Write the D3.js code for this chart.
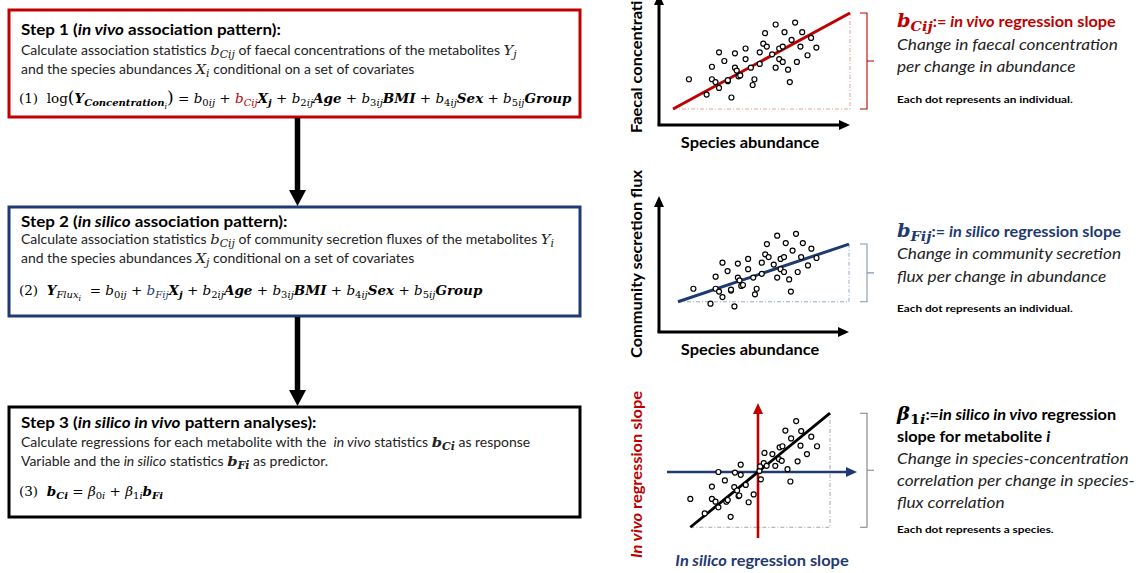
<!DOCTYPE html>
<html><head><meta charset="utf-8">
<script src="https://cdn.jsdelivr.net/npm/d3@7"></script>
<style>body{margin:0;background:#fff}svg{display:block}text{white-space:pre}</style>
</head><body>
<script>
// ---------- DATA ----------
// Panels 1 & 2: each dot is an individual (species abundance vs. response)
const individualAbundance = [9,19,22,22,24,26,26,29,31,31,33,35,35,36,37,38,41,41,44,45,46,49,49,51,52,53,56,58,58,60,60,62,62,63,65,66,67,69,70,72,73,76,78,81];
const individualResponse  = [31,15,44,31,28,59,22,50,29,30,12,43,58,40,34,35,52,63,43,25,31,59,47,68,79,65,57,43,88,52,63,49,65,80,41,28,72,90,49,65,80,56,74,64];
// Panel 3: each dot is a species (in silico slope vs in vivo slope)
const speciesInSilicoSlope = [-0.94,-0.74,-0.64,-0.64,-0.59,-0.55,-0.55,-0.46,-0.44,-0.42,-0.38,-0.33,-0.32,-0.29,-0.27,-0.26,-0.24,-0.24,-0.17,-0.13,-0.06,0.02,0.03,0.04,0.08,0.09,0.12,0.20,0.24,0.29,0.30,0.33,0.34,0.38,0.41,0.45,0.46,0.53,0.55,0.59,0.60,0.68,0.74,0.82];
const speciesInVivoSlope   = [-0.48,-0.74,-0.26,-0.48,-0.53,-0.63,0,-0.15,-0.53,-0.50,-0.80,-0.27,-0.01,-0.33,-0.43,-0.42,0.13,-0.05,-0.23,-0.54,-0.40,0.02,0.10,-0.13,0.16,0.34,0.11,0.32,0.11,0.23,0.44,0.20,0.46,0.74,0.05,-0.17,0.60,0.91,0.19,0.47,0.73,0.32,0.63,0.46];
// regression lines: [intercept, slope], and x extents
const vivoLine = [0, 1.0];
const silicoLine = [17, 0.62];
const patternLine = [0, 1.05];
const individualLineX = [0, 100];
const patternLineX = [-0.94, 1.0];
// labels
const axisLabels = ["Faecal concentration", "Species abundance", "Community secretion flux", "In vivo regression slope", "In silico regression slope"];
const dotNotes = ["Each dot represents an individual.", "Each dot represents an individual.", "Each dot represents a species."];

// ---------- SETUP ----------
const W = 1141, H = 573;
const RED = "#c00000", NAVY = "#1f3a70", TXT = "#222";
const SANS = "Lato, 'Open Sans', sans-serif";
const SERIF = "'DejaVu Serif', 'Liberation Serif', serif";
const svg = d3.select("body").append("svg").attr("width", W).attr("height", H);

function makeLine(parent, x, y, segs, base, opt = {}) {
  const g = parent.append("g");
  const t = g.append("text").attr("x", 0).attr("y", 0)
    .style("font-family", base.font).style("font-size", base.size + "px")
    .attr("fill", base.color || "#000");
  if (opt.anchor) t.attr("text-anchor", opt.anchor);
  let cur = 0;
  segs.forEach(s => {
    const o = typeof s === "string" ? { t: s } : s;
    const lvl = o.sub || 0;
    const sz0 = o.size || (o.serif ? base.size * (base.serifScale || 1) : base.size);
    const size = sz0 * (lvl === 1 ? 0.74 : lvl === 2 ? 0.58 : 1);
    const off = lvl === 1 ? base.size * 0.25 : lvl === 2 ? base.size * 0.42 : 0;
    const sp = t.append("tspan").text(o.t)
      .style("font-family", o.serif ? SERIF : (o.sans ? SANS : base.font))
      .style("font-size", size + "px")
      .style("font-weight", o.b ? "bold" : (o.n ? "normal" : (base.weight || "normal")))
      .style("font-style", o.i ? "italic" : (o.u ? "normal" : (base.style || "normal")));
    if (off - cur !== 0) sp.attr("dy", off - cur);
    if (o.c) sp.attr("fill", o.c);
    cur = off;
  });
  const L = { g, t, x, y, rot: !!opt.rot };
  place(L, 1);
  return L;
}
function place(L, k) {
  L.g.attr("transform", `translate(${L.x},${L.y})` + (L.rot ? " rotate(-90)" : "") + ` scale(${k},1)`);
}
function fit(lines, ref, target) {
  const w = ref.t.node().getBBox().width;
  const k = target / w;
  lines.forEach(l => place(l, k));
}

// ---------- LEFT: STEP BOXES ----------
const boxes = [
  { y0: 10, y1: 117, color: RED },
  { y0: 207, y1: 316, color: NAVY },
  { y0: 407, y1: 517, color: "#000" }
];
const boxX0 = 9, boxX1 = 580;
boxes.forEach(b => {
  svg.append("rect").attr("x", boxX0).attr("y", b.y0).attr("width", boxX1 - boxX0).attr("height", b.y1 - b.y0)
    .attr("fill", "none").attr("stroke", b.color).attr("stroke-width", 3);
});
// connecting arrows
function bigArrow(x, y0, y1) {
  const head = 16, hw = 8.5;
  svg.append("line").attr("x1", x).attr("x2", x).attr("y1", y0).attr("y2", y1 - head + 1)
    .attr("stroke", "#000").attr("stroke-width", 5.5);
  svg.append("path").attr("d", `M${x - hw},${y1 - head} L${x + hw},${y1 - head} L${x},${y1} Z`).attr("fill", "#000");
}
bigArrow(297.5, boxes[0].y1 + 1, boxes[1].y0 - 1);
bigArrow(297.5, boxes[1].y1 + 1, boxes[2].y0 - 1);

const titleBase = { font: SANS, size: 14.5, weight: "bold", color: "#000" };
const bodyBase = { font: SANS, size: 13, color: TXT, serifScale: 1.06 };
const eqBase = { font: SERIF, size: 13.4, color: "#000" };
const tx = 21, ex = 19;

const titles = [
  makeLine(svg, tx, 35, ["Step 1 (", { t: "in vivo", i: 1 }, " association pattern):"], titleBase),
  makeLine(svg, tx, 227, ["Step 2 (", { t: "in silico", i: 1 }, " association pattern):"], titleBase),
  makeLine(svg, tx, 428, ["Step 3 (", { t: "in silico in vivo", i: 1 }, " pattern analyses):"], titleBase)
];
const sv = (t, sub, extra = {}) => [{ t, serif: 1, i: 1, ...extra }, { t: sub, serif: 1, i: 1, sub: 1, ...extra }];
const body = [
  makeLine(svg, tx, 55, ["Calculate association statistics ", ...sv("b", "Cij"), " of faecal concentrations of the metabolites ", ...sv("Y", "j")], bodyBase),
  makeLine(svg, tx, 74, ["and the species abundances ", ...sv("X", "i"), " conditional on a set of covariates"], bodyBase),
  makeLine(svg, tx, 244, ["Calculate association statistics ", ...sv("b", "Cij"), " of community secretion fluxes of the metabolites ", ...sv("Y", "i")], bodyBase),
  makeLine(svg, tx, 263, ["and the species abundances ", ...sv("X", "j"), " conditional on a set of covariates"], bodyBase),
  makeLine(svg, tx, 447, ["Calculate regressions for each metabolite with the  ", { t: "in vivo", i: 1 }, " statistics ", ...sv("b", "Ci", { b: 1 }), " as response"], bodyBase),
  makeLine(svg, tx, 466, ["Variable and the ", { t: "in silico", i: 1 }, " statistics ", ...sv("b", "Fi", { b: 1 }), " as predictor."], bodyBase)
];
function bij(n, c) {
  const e = c ? { c } : {};
  return [{ t: "b", i: 1, ...e }, { t: n, sub: 1, ...e }, { t: "ij", i: 1, sub: 1, ...e }];
}
const covars = [" + ", ...bij("2"), { t: "Age", b: 1, i: 1 }, " + ", ...bij("3"), { t: "BMI", b: 1, i: 1 },
  " + ", ...bij("4"), { t: "Sex", b: 1, i: 1 }, " + ", ...bij("5"), { t: "Group", b: 1, i: 1 }];
const eqs = [
  makeLine(svg, ex, 103, ["(1)  log", { t: "(", size: 17 }, { t: "Y", b: 1, i: 1 }, { t: "Concentration", b: 1, i: 1, sub: 1 }, { t: "i", i: 1, sub: 2 },
    { t: ")", size: 17 }, " = ", ...bij("0"), " + ", { t: "b", i: 1, c: RED }, { t: "Cij", i: 1, sub: 1, c: RED },
    { t: "X", b: 1, i: 1 }, { t: "j", b: 1, i: 1, sub: 1 }, ...covars], eqBase),
  makeLine(svg, ex, 295, ["(2)  ", { t: "Y", b: 1, i: 1 }, { t: "Flux", i: 1, sub: 1 }, { t: "i", i: 1, sub: 2 },
    "  = ", ...bij("0"), " + ", { t: "b", i: 1, c: NAVY }, { t: "Fij", i: 1, sub: 1, c: NAVY },
    { t: "X", b: 1, i: 1 }, { t: "j", b: 1, i: 1, sub: 1 }, ...covars], eqBase),
  makeLine(svg, ex, 496, ["(3)  ", { t: "b", b: 1, i: 1 }, { t: "Ci", b: 1, i: 1, sub: 1 }, " = ", { t: "β", i: 1 }, { t: "0", sub: 1 }, { t: "i", i: 1, sub: 1 },
    " + ", { t: "β", i: 1 }, { t: "1", sub: 1 }, { t: "i", i: 1, sub: 1 }, { t: "b", b: 1, i: 1 }, { t: "Fi", b: 1, i: 1, sub: 1 }], eqBase)
];

// ---------- RIGHT: SCATTER PANELS ----------
function arrowLine(x1, y1, x2, y2, color, sw, head, hw) {
  const dx = x2 - x1, dy = y2 - y1, len = Math.hypot(dx, dy), ux = dx / len, uy = dy / len;
  const bx = x2 - ux * head, by = y2 - uy * head;
  svg.append("line").attr("x1", x1).attr("y1", y1).attr("x2", bx + ux).attr("y2", by + uy)
    .attr("stroke", color).attr("stroke-width", sw);
  svg.append("path").attr("d", `M${bx - uy * hw},${by + ux * hw} L${bx + uy * hw},${by - ux * hw} L${x2},${y2} Z`).attr("fill", color);
}
function bracket(x, y0, y1, color) {
  const ym = (y0 + y1) / 2;
  svg.append("path").attr("d", `M${x - 7},${y0} H${x} V${y1} H${x - 7} M${x},${ym} H${x + 7}`)
    .attr("fill", "none").attr("stroke", color).attr("stroke-width", 1.1);
}
function dots(xs, ys, sx, sy) {
  svg.append("g").selectAll("circle").data(xs.map((v, i) => [v, ys[i]])).join("circle")
    .attr("cx", d => sx(d[0])).attr("cy", d => sy(d[1])).attr("r", 2.5)
    .attr("fill", "#fff").attr("stroke", "#000").attr("stroke-width", 1.2);
}
function regression(line, xr, sx, sy, color, dotColor, sw) {
  const p0 = [sx(xr[0]), sy(line[0] + line[1] * xr[0])];
  const p1 = [sx(xr[1]), sy(line[0] + line[1] * xr[1])];
  svg.append("path").attr("d", `M${p0[0]},${p0[1]} H${p1[0]} V${p1[1]}`).attr("fill", "none")
    .attr("stroke", dotColor).attr("stroke-width", 1).attr("stroke-dasharray", "4,2,1,2");
  return { p0, p1, draw: () => svg.append("line").attr("x1", p0[0]).attr("y1", p0[1]).attr("x2", p1[0]).attr("y2", p1[1])
    .attr("stroke", color).attr("stroke-width", sw) };
}

// Panel 1
const x1s = d3.scaleLinear().domain([0, 100]).range([673, 850]);
const y1s = d3.scaleLinear().domain([0, 100]).range([109, 13]);
arrowLine(659, 125, 659, -6, "#000", 3, 11, 5);
arrowLine(659 - 1.5, 125, 850, 125, "#000", 3, 11, 5);
const r1 = regression(vivoLine, individualLineX, x1s, y1s, RED, "#e8a0a0", 3);
r1.draw();
dots(individualAbundance, individualResponse, x1s, y1s);
bracket(867, r1.p1[1], r1.p0[1], RED);

// Panel 2
const x2s = d3.scaleLinear().domain([0, 100]).range([678, 849]);
const y2s = d3.scaleLinear().domain([0, 100]).range([317.6, 224.5]);
arrowLine(659, 332, 659, 196, "#000", 3, 11, 5);
arrowLine(659 - 1.5, 332, 849, 332, "#000", 3, 11, 5);
const r2 = regression(silicoLine, individualLineX, x2s, y2s, NAVY, "#9aabc8", 3);
r2.draw();
dots(individualAbundance, individualResponse, x2s, y2s);
bracket(867, r2.p1[1], r2.p0[1], "#8497b0");

// Panel 3
const x3s = d3.scaleLinear().domain([-1, 1]).range([686, 830]);
const y3s = d3.scaleLinear().domain([-1, 1]).range([528, 416]);
const r3 = regression(patternLine, patternLineX, x3s, y3s, "#000", "#a6a6a6", 2.8);
arrowLine(x3s(0), 538, x3s(0), 403, RED, 2.6, 11, 5);
arrowLine(667, y3s(0), 857, y3s(0), NAVY, 2.6, 11, 5);
r3.draw();
dots(speciesInSilicoSlope, speciesInVivoSlope, x3s, y3s);
bracket(867, r3.p1[1], r3.p0[1], "#7f7f7f");

// axis labels
const axBase = { font: SANS, size: 16, weight: "bold", color: "#000" };
const ax = [
  makeLine(svg, 750, 148, [axisLabels[1]], axBase, { anchor: "middle" }),
  makeLine(svg, 750, 355, [axisLabels[1]], axBase, { anchor: "middle" }),
  makeLine(svg, 642, 133, [axisLabels[0]], axBase, { rot: 1 }),
  makeLine(svg, 642, 358, [axisLabels[2]], axBase, { rot: 1 }),
  makeLine(svg, 642, 558, [{ t: "In vivo", i: 1 }, axisLabels[3].slice(7)], { ...axBase, color: RED }, { rot: 1 }),
  makeLine(svg, 762, 566, [{ t: "In silico", i: 1 }, axisLabels[4].slice(9)], { ...axBase, color: NAVY }, { anchor: "middle" })
];

// ---------- RIGHT: EXPLANATIONS ----------
const rx = 897;
const headBase = { font: SANS, size: 15.5, weight: "bold" };
const itBase = { font: SANS, size: 16, style: "italic", color: TXT };
const noteBase = { font: SANS, size: 10, weight: "bold", color: "#000" };
const heads = [
  makeLine(svg, rx, 27, [{ t: "b", serif: 1, i: 1, size: 18.5 }, { t: "Cij", serif: 1, i: 1, sub: 1, size: 18.5 }, ":= ", { t: "in vivo", i: 1 }, " regression slope"], { ...headBase, color: RED }),
  makeLine(svg, rx, 237, [{ t: "b", serif: 1, i: 1, size: 18.5 }, { t: "Fij", serif: 1, i: 1, sub: 1, size: 18.5 }, ":= ", { t: "in silico", i: 1 }, " regression slope"], { ...headBase, color: NAVY }),
  makeLine(svg, rx, 420, [{ t: "β", serif: 1, i: 1, size: 18.5 }, { t: "1", serif: 1, sub: 1, size: 18.5 }, { t: "i", serif: 1, i: 1, sub: 1, size: 18.5 }, ":=", { t: "in silico in vivo", i: 1 }, " regression"], { ...headBase, color: "#000" }),
  makeLine(svg, rx, 442, ["slope for metabolite ", { t: "i", i: 1 }], { ...headBase, color: "#000" })
];
const its = [
  makeLine(svg, rx, 50, ["Change in faecal concentration"], itBase),
  makeLine(svg, rx, 72, ["per change in abundance"], itBase),
  makeLine(svg, rx, 259, ["Change in community secretion"], itBase),
  makeLine(svg, rx, 282, ["flux per change in abundance"], itBase),
  makeLine(svg, rx, 464, ["Change in species-concentration"], itBase),
  makeLine(svg, rx, 486, ["correlation per change in species-"], itBase),
  makeLine(svg, rx, 508, ["flux correlation"], itBase)
];
const notes = [
  makeLine(svg, rx, 103, [dotNotes[0]], noteBase),
  makeLine(svg, rx, 312, [dotNotes[1]], noteBase),
  makeLine(svg, rx, 533, [dotNotes[2]], noteBase)
];

// ---------- horizontal calibration to match reference widths ----------
fit(titles, titles[0], 260);
fit(body, body[0], 496);
fit(eqs, eqs[0], 553);
fit(ax, ax[0], 139);
fit(heads, heads[0], 219);
fit(its, its[0], 221);
fit(notes, notes[0], 176);
</script>
</body></html>
